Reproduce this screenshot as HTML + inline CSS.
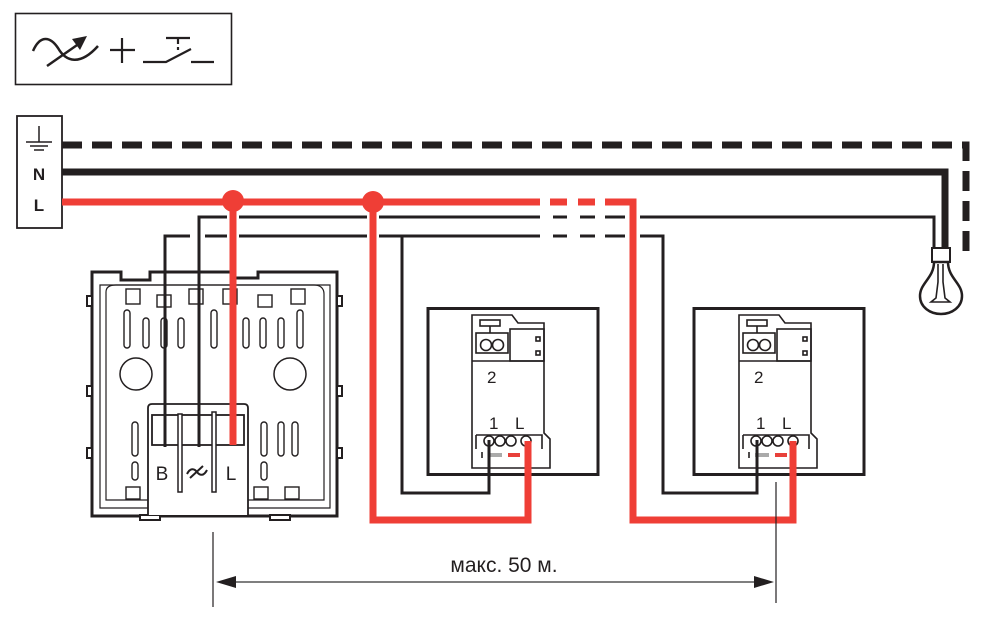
<!DOCTYPE html>
<html><head><meta charset="utf-8"><style>
html,body{margin:0;padding:0;background:#fff;}
svg{display:block;}
text{font-family:"Liberation Sans",sans-serif;}
</style></head><body>
<svg width="995" height="618" viewBox="0 0 995 618" xmlns="http://www.w3.org/2000/svg">
<defs>
<g id="mod" fill="none" stroke="#231f20" stroke-width="1.6">
  <path d="M0,0 H40 L46,8 H72 V118 L78,124 V153 H0 Z"/>
  <rect x="8" y="5" width="20" height="6"/>
  <line x1="18" y1="11" x2="18" y2="18"/>
  <rect x="4" y="18" width="32" height="20"/>
  <circle cx="14" cy="30" r="5.5"/>
  <circle cx="26" cy="30" r="5.5"/>
  <rect x="38" y="14" width="34" height="32"/>
  <rect x="64" y="22" width="4" height="4"/>
  <rect x="64" y="36" width="4" height="4"/>
  <line x1="0" y1="46" x2="72" y2="46"/>
  <path d="M4,120 H70 V134 M4,120 V134"/>
  <circle cx="17" cy="126" r="5"/>
  <circle cx="28" cy="126" r="5"/>
  <circle cx="39" cy="126" r="5"/>
  <circle cx="54" cy="126" r="5"/>
  <rect x="16" y="138" width="14" height="4" fill="#aaa" stroke="none"/>
  <rect x="36" y="138" width="12" height="4" fill="#e8403a" stroke="none"/>
  <line x1="10" y1="137" x2="10" y2="143"/>
</g>
</defs>

<!-- symbol box -->
<rect x="15.5" y="13.5" width="216" height="71" fill="none" stroke="#231f20" stroke-width="1.6"/>
<path d="M33,51 C40,35 50,36 58,48 C66,62 80,66 98,46" fill="none" stroke="#231f20" stroke-width="2.5"/>
<line x1="47" y1="66" x2="80" y2="43" stroke="#231f20" stroke-width="2.5"/>
<polygon points="87,36 72,39 80,50" fill="#231f20"/>
<line x1="110" y1="50" x2="135" y2="50" stroke="#231f20" stroke-width="2.2"/>
<line x1="122" y1="38" x2="122" y2="63" stroke="#231f20" stroke-width="2.2"/>
<path d="M143,62 H166 L191,49 M191,62 H214" fill="none" stroke="#231f20" stroke-width="2.2"/>
<path d="M166,38 H190 M178,38 V44 M178,47 V50" fill="none" stroke="#231f20" stroke-width="2.2"/>

<!-- terminal box -->
<rect x="17" y="116" width="45" height="112" fill="#fff" stroke="#231f20" stroke-width="1.8"/>
<line x1="39" y1="126" x2="39" y2="142" stroke="#231f20" stroke-width="1.5"/>
<line x1="26" y1="142" x2="52" y2="142" stroke="#231f20" stroke-width="1.5"/>
<line x1="30" y1="146" x2="48" y2="146" stroke="#231f20" stroke-width="1.5"/>
<line x1="34" y1="150" x2="44" y2="150" stroke="#231f20" stroke-width="1.5"/>
<text x="39" y="180" font-size="17" font-weight="bold" text-anchor="middle" fill="#231f20">N</text>
<text x="39" y="211" font-size="17" font-weight="bold" text-anchor="middle" fill="#231f20">L</text>

<path d="M62,145 H966 V255" fill="none" stroke="#231f20" stroke-width="7" stroke-dasharray="20,10"/>
<path d="M62,172 H945 V249" fill="none" stroke="#231f20" stroke-width="7"/>

<g fill="none" stroke="#231f20" stroke-width="3">
  <path d="M199,447 V217 H540"/>
  <path d="M553,217 H567 M580,217 H595 M605,217 H625"/>
  <path d="M640,217 H934 V249"/>
  <path d="M165,447 V236 H190 M205,236 H540"/>
  <path d="M553,236 H567 M580,236 H595 M605,236 H625"/>
  <path d="M640,236 H663 V493 H757 V440"/>
  <path d="M402,236 V493 H489 V440"/>
</g>

<g fill="none" stroke="#fff" stroke-width="12">
  <line x1="233" y1="207" x2="233" y2="245"/>
  <line x1="373" y1="207" x2="373" y2="245"/>
  <line x1="633" y1="207" x2="633" y2="245"/>
</g>
<g fill="none" stroke="#ef3e36" stroke-width="7">
  <path d="M62,202 H540"/>
  <path d="M550,202 H567 M578,202 H595 M605,202 H633 V520 H793 V447"/>
  <path d="M233,202 V447"/>
  <path d="M373,202 V520 H528 V447"/>
</g>
<circle cx="233" cy="201" r="11" fill="#ef3e36"/>
<circle cx="373" cy="202" r="11" fill="#ef3e36"/>

<rect x="932" y="248" width="18" height="14" fill="#fff" stroke="#231f20" stroke-width="2"/>
<path d="M934,262 C934,278 920,283 920,296 C920,307 930,314 941,314 C952,314 962,307 962,296 C962,283 948,278 948,262 Z" fill="#fff" stroke="#231f20" stroke-width="2.5"/>
<path d="M938,264 V282 L936,298 L931,302 H950 L945,298 L943,282 V264" fill="none" stroke="#231f20" stroke-width="1.6"/>

<!-- dimmer -->
<g fill="none" stroke="#231f20">
  <path d="M92,272 H121 V280 H150 V272 H232 V278 H258 V272 H337 V516 H92 Z" stroke-width="3" fill="#fff"/>
  <g fill="#fff" stroke-width="2">
    <rect x="87" y="296" width="5" height="10"/><rect x="87" y="386" width="5" height="10"/><rect x="87" y="448" width="5" height="10"/>
    <rect x="337" y="296" width="5" height="10"/><rect x="337" y="386" width="5" height="10"/><rect x="337" y="448" width="5" height="10"/>
    <rect x="140" y="515" width="20" height="5"/><rect x="270" y="515" width="20" height="5"/>
  </g>
  <path d="M100,285 H330 V508 H100 Z" stroke-width="1.2"/>
  <path d="M106,292 C106,287 110,285 116,285 H314 C320,285 324,288 324,294 V500 H106 Z" stroke-width="1.2"/>
  <circle cx="136" cy="374" r="16" stroke-width="1.5"/>
  <circle cx="290" cy="374" r="16" stroke-width="1.5"/>
  <g stroke-width="1.4">
    <rect x="126" y="289" width="14" height="15"/>
    <rect x="157" y="295" width="14" height="12"/>
    <rect x="189" y="289" width="14" height="15"/>
    <rect x="223" y="289" width="14" height="15"/>
    <rect x="258" y="295" width="14" height="12"/>
    <rect x="291" y="289" width="14" height="15"/>
    <rect x="124" y="310" width="6" height="38" rx="3"/>
    <rect x="143" y="318" width="6" height="30" rx="3"/>
    <rect x="161" y="318" width="6" height="30" rx="3"/>
    <rect x="178" y="318" width="6" height="30" rx="3"/>
    <rect x="211" y="310" width="6" height="38" rx="3"/>
    <rect x="243" y="318" width="6" height="30" rx="3"/>
    <rect x="260" y="318" width="6" height="30" rx="3"/>
    <rect x="278" y="318" width="6" height="30" rx="3"/>
    <rect x="297" y="310" width="6" height="38" rx="3"/>
    <rect x="132" y="422" width="6" height="34" rx="3"/>
    <rect x="132" y="462" width="6" height="18" rx="3"/>
    <rect x="261" y="422" width="6" height="34" rx="3"/>
    <rect x="278" y="422" width="6" height="34" rx="3"/>
    <rect x="292" y="422" width="6" height="34" rx="3"/>
    <rect x="261" y="462" width="6" height="18" rx="3"/>
    <rect x="126" y="487" width="14" height="12"/>
    <rect x="254" y="487" width="14" height="12"/>
    <rect x="285" y="487" width="14" height="12"/>
  </g>
  <path d="M148,515 V408 Q148,404 152,404 H244 Q248,404 248,408 V515" stroke-width="1.8" fill="#fff"/>
  <rect x="152" y="415" width="92" height="30" stroke-width="1.8"/>
  <rect x="178" y="414" width="4" height="78" stroke-width="1.5" fill="#fff"/>
  <rect x="212" y="412" width="4" height="80" stroke-width="1.5" fill="#fff"/>
</g>
<g fill="none" stroke="#231f20" stroke-width="3">
  <line x1="165" y1="236" x2="165" y2="447"/>
  <line x1="199" y1="217" x2="199" y2="447"/>
</g>
<line x1="233" y1="212" x2="233" y2="445" stroke="#ef3e36" stroke-width="7"/>
<text x="162" y="480" font-size="19" text-anchor="middle" fill="#231f20">B</text>
<path d="M187,474 C190,468 194,468 197,472 C200,476 204,476 207,470 M190,478 L203,466" fill="none" stroke="#231f20" stroke-width="2"/>
<text x="231" y="480" font-size="19" text-anchor="middle" fill="#231f20">L</text>

<rect x="428" y="308.5" width="170" height="166" fill="none" stroke="#231f20" stroke-width="3"/>
<rect x="694" y="308.5" width="170" height="166" fill="none" stroke="#231f20" stroke-width="3"/>
<g transform="translate(472,315)"><use href="#mod"/></g>
<g transform="translate(739,315)"><use href="#mod"/></g>
<g font-size="17" fill="#231f20">
  <text x="487" y="383">2</text><text x="489" y="429">1</text><text x="515" y="429">L</text>
  <text x="754" y="383">2</text><text x="756" y="429">1</text><text x="782" y="429">L</text>
</g>
<g fill="none" stroke="#231f20" stroke-width="3">
  <path d="M489,493 V443"/><path d="M757,493 V443"/>
</g>
<g fill="none" stroke="#ef3e36" stroke-width="7">
  <path d="M528,520 V441"/><path d="M793,520 V441"/>
</g>

<line x1="213" y1="532" x2="213" y2="607" stroke="#231f20" stroke-width="1.2"/>
<line x1="776" y1="482" x2="776" y2="603" stroke="#231f20" stroke-width="1.2"/>
<line x1="230" y1="582" x2="760" y2="582" stroke="#555" stroke-width="1.5"/>
<polygon points="216,582 236,576 236,588" fill="#231f20"/>
<polygon points="774,582 754,576 754,588" fill="#231f20"/>
<text x="504" y="572" font-size="21" text-anchor="middle" fill="#231f20">макс. 50 м.</text>
</svg>
</body></html>
